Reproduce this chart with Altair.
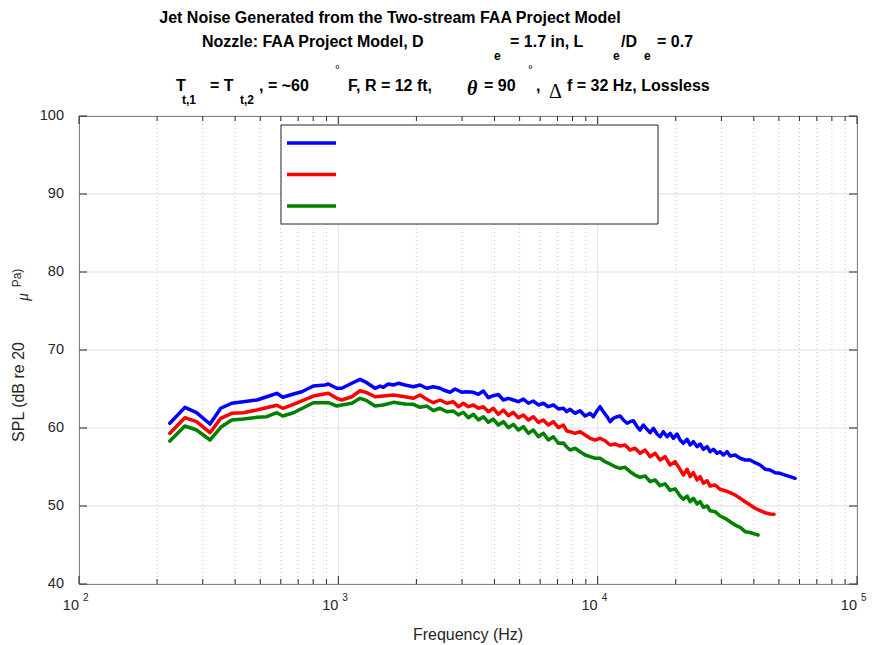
import altair as alt
import pandas as pd

# ---------------- data ----------------
blue_freq = [224, 256, 284, 320, 352, 388, 430, 485, 530, 579, 611, 671,
             723, 801, 889, 915, 986, 1031, 1127, 1213, 1287, 1385, 1448, 1491, 1559, 1630, 1704, 1808, 1946, 2066, 2192, 2325,
             2468, 2541, 2697, 2819, 2992, 3128, 3316, 3467, 3625, 3789, 3961, 4141, 4329, 4525, 4731, 4946, 5170, 5405, 5650, 5907, 6175, 6455, 6749, 7055, 7375,
             7601, 7828, 8184, 8555, 8944, 9349, 9626, 9947, 10216, 10519, 10873, 11165, 11497, 11881, 12202, 12564, 12986, 13335, 13731, 14190, 14573, 15005, 15508, 15926, 16398, 16947, 17406, 17922, 18519, 19020, 19585, 20241,
             20789, 21406, 22127, 22726, 23400, 24183, 24837, 25573, 26425, 27140, 27945, 28885, 29666, 30546, 31568, 32419, 33890, 35428, 37037, 38719, 40462, 42300, 44222, 46230, 48332, 50527, 52822, 55208, 57710]
blue_spl = [60.6, 62.65, 61.96, 60.51, 62.53, 63.17, 63.37, 63.59, 64.01, 64.45, 63.94, 64.36,
            64.65, 65.38, 65.51, 65.64, 65.09, 65.09, 65.73, 66.24, 65.81, 65.09, 65.38, 65.22, 65.64, 65.51, 65.73, 65.51, 65.29, 65.51, 65.09, 65.29,
            65.09, 64.87, 64.58, 65.0, 64.58, 64.65, 64.58, 64.32, 64.74, 63.88, 64.14, 64.3, 63.59, 63.81, 63.59, 63.37, 63.72, 63.17, 63.46, 62.95, 63.17, 62.73, 62.95, 62.44, 62.53,
            62.09, 62.4, 61.88, 62.22, 61.54, 61.88, 61.45, 62.22, 62.73, 62.09, 61.45, 60.81, 61.24, 61.45, 61.54, 61.03, 60.6, 60.81, 60.94, 60.17, 59.74, 60.38, 59.83, 59.4, 59.96, 59.23, 58.88, 59.53, 58.88, 59.32, 58.68, 59.23,
            58.46, 58.04, 58.55, 57.82, 58.24, 57.6, 57.95, 57.27, 57.6, 56.96, 57.27, 56.76, 56.96, 56.54, 56.96, 56.41, 56.54, 56.12, 55.9, 55.9, 55.55, 55.26, 54.71, 54.62, 54.27, 54.19, 53.97, 53.76, 53.55]

red_freq = [224, 256, 284, 320, 352, 388, 430, 485, 579, 611, 671,
            801, 915, 986, 1031, 1127, 1213, 1287, 1385, 1491, 1630, 1808, 1946, 2066, 2192, 2325,
            2468, 2619, 2777, 2903, 3035, 3172, 3316, 3467, 3625, 3789, 3961, 4141, 4329, 4525, 4731, 4946, 5170, 5405, 5650, 5907, 6175, 6455, 6749, 7055, 7375,
            7601, 7828, 8184, 8555, 8944, 9349, 9772, 10216, 10680, 11165, 11672, 12202, 12756, 13335, 13940, 14573, 15235, 15926, 16649, 17406, 18194, 19020, 19885,
            20789, 21406, 22127, 22726, 23400, 24183, 24837, 25573, 26425, 27140, 28373, 29666, 31012, 32419, 33890, 35428, 37037, 38719, 40462, 42300, 44222, 46230, 47890]
red_spl = [59.32, 61.32, 60.81, 59.4, 61.24, 61.88, 61.96, 62.31, 62.91, 62.53, 63.04,
           64.1, 64.45, 63.81, 63.59, 64.01, 64.78, 64.53, 64.01, 64.1, 64.23, 64.01, 63.81, 64.23, 63.68, 63.24,
           63.59, 63.17, 63.37, 62.73, 63.17, 62.73, 62.95, 62.53, 62.73, 62.09, 62.53, 61.76, 62.31, 61.58, 62.01, 61.32, 61.67, 61.03, 61.45, 60.73, 61.03, 60.38, 60.81, 60.04, 60.38,
           59.62, 59.53, 59.32, 59.53, 59.1, 58.68, 58.46, 58.68, 58.37, 57.82, 57.95, 57.69, 57.82, 57.18, 57.4, 56.76, 57.18, 56.32, 56.76, 55.9, 56.32, 55.26, 55.68,
           54.7, 53.97, 54.71, 53.76, 54.27, 53.33, 53.76, 52.91, 53.24, 52.56, 52.69, 52.14, 51.96, 51.71, 51.41, 50.99, 50.55, 50.13, 49.71, 49.4, 49.14, 48.97, 48.95]

green_freq = [224, 256, 284, 320, 352, 388, 430, 485, 530, 579, 611, 671,
              801, 915, 986, 1031, 1127, 1213, 1287, 1385, 1491, 1630, 1808, 1946, 2066, 2192, 2325,
              2468, 2619, 2777, 2903, 3035, 3172, 3316, 3467, 3625, 3789, 3961, 4141, 4329, 4525, 4731, 4946, 5170, 5405, 5650, 5907, 6175, 6455, 6749, 7055, 7375,
              7601, 7828, 8184, 8555, 8944, 9349, 9772, 10216, 10680, 11165, 11672, 12202, 12756, 13335, 13940, 14573, 15235, 15926, 16649, 17406, 18194, 19020, 19885,
              20789, 21406, 22127, 22726, 23400, 24183, 24837, 25573, 26425, 27140, 28373, 29666, 31012, 32419, 33890, 35428, 37037, 38719, 40462, 41557]
green_spl = [58.33, 60.26, 59.74, 58.46, 60.09, 61.03, 61.15, 61.37, 61.45, 61.96, 61.54, 61.96,
             63.24, 63.24, 62.82, 62.95, 63.17, 63.81, 63.5, 62.82, 62.95, 63.29, 63.08, 63.04, 62.65, 62.82, 62.22,
             62.53, 62.09, 62.18, 61.67, 62.01, 61.32, 61.76, 61.03, 61.45, 60.73, 61.15, 60.38, 60.81, 60.04, 60.47, 59.74, 60.17, 59.32, 59.74, 58.88, 59.32, 58.46, 58.88, 58.04, 58.08,
             57.56, 57.18, 57.4, 56.96, 56.54, 56.32, 56.12, 56.12, 55.68, 55.38, 55.04, 54.83, 54.96, 54.4, 53.97, 53.68, 53.85, 53.12, 53.33, 52.6, 52.85, 52.0, 52.2,
             51.28, 50.86, 51.28, 50.55, 50.99, 50.26, 50.55, 49.83, 50.0, 49.4, 49.27, 48.72, 48.42, 47.99, 47.56, 47.27, 46.71, 46.6, 46.4, 46.28]

series_names = ["Series 1", "Series 2", "Series 3"]
series_colors = ["#0000ff", "#ff0000", "#008000"]

decades = [100, 1000, 10000, 100000]
decade_exponents = ["2", "3", "4", "5"]
minor_ticks = [m * d for d in (100, 1000, 10000) for m in range(2, 10)]
y_ticks = [40, 50, 60, 70, 80, 90, 100]

# ---------------- layout ----------------
W, H = 778, 468
OX, OY = 79, 116
AX = "#262626"
FONT = "Liberation Sans"

df = pd.concat([
    pd.DataFrame({"freq": blue_freq, "spl": blue_spl, "series": series_names[0]}),
    pd.DataFrame({"freq": red_freq, "spl": red_spl, "series": series_names[1]}),
    pd.DataFrame({"freq": green_freq, "spl": green_spl, "series": series_names[2]}),
], ignore_index=True)

xs = alt.Scale(type="log", domain=[100, 100000], nice=False)
ys = alt.Scale(domain=[40, 100], nice=False, zero=False)

dec_df = pd.DataFrame({"f": decades, "e": decade_exponents})
min_df = pd.DataFrame({"f": minor_ticks})
yt_df = pd.DataFrame({"v": y_ticks, "lbl": [str(v) for v in y_ticks]})
one = pd.DataFrame({"a": [0]})

grid_major_x = alt.Chart(dec_df).mark_rule(color="#dfdfdf", strokeWidth=1).encode(
    x=alt.X("f:Q", scale=xs, axis=None), y=alt.value(0), y2=alt.value(H))
grid_minor_x = alt.Chart(min_df).mark_rule(color="#c8c8c8", strokeWidth=1, strokeDash=[1, 3]).encode(
    x=alt.X("f:Q", scale=xs, axis=None), y=alt.value(0), y2=alt.value(H))
grid_y = alt.Chart(yt_df).mark_rule(color="#dfdfdf", strokeWidth=1).encode(
    y=alt.Y("v:Q", scale=ys, axis=None), x=alt.value(0), x2=alt.value(W))

lines = alt.Chart(df).mark_line(strokeWidth=3.5, strokeJoin="round", strokeCap="round").encode(
    x=alt.X("freq:Q", scale=xs, axis=None),
    y=alt.Y("spl:Q", scale=ys, axis=None),
    color=alt.Color("series:N", scale=alt.Scale(domain=series_names, range=series_colors), legend=None),
)

# ticks (inside, MATLAB style)
tick_layers = []
for (y0, y1) in [(H, H - 8), (0, 8)]:
    tick_layers.append(alt.Chart(dec_df).mark_rule(color=AX, strokeWidth=1).encode(
        x=alt.X("f:Q", scale=xs, axis=None), y=alt.value(y0), y2=alt.value(y1)))
for (y0, y1) in [(H, H - 5), (0, 5)]:
    tick_layers.append(alt.Chart(min_df).mark_rule(color=AX, strokeWidth=1).encode(
        x=alt.X("f:Q", scale=xs, axis=None), y=alt.value(y0), y2=alt.value(y1)))
for (x0, x1) in [(0, 8), (W, W - 8)]:
    tick_layers.append(alt.Chart(yt_df).mark_rule(color=AX, strokeWidth=1).encode(
        y=alt.Y("v:Q", scale=ys, axis=None), x=alt.value(x0), x2=alt.value(x1)))

# tick labels
ylabels = alt.Chart(yt_df).mark_text(align="right", baseline="middle", fontSize=14.5, font=FONT, color=AX).encode(
    y=alt.Y("v:Q", scale=ys, axis=None), x=alt.value(-15), text="lbl:N")
xlab10 = alt.Chart(dec_df).mark_text(align="right", baseline="middle", fontSize=14.5, font=FONT, color=AX, dx=0).encode(
    x=alt.X("f:Q", scale=xs, axis=None), y=alt.value(H + 22), text=alt.value("10"))
xlabexp = alt.Chart(dec_df).mark_text(align="left", baseline="middle", fontSize=10, font=FONT, color=AX, dx=4).encode(
    x=alt.X("f:Q", scale=xs, axis=None), y=alt.value(H + 14), text="e:N")

# legend box (no labels, as in the reference)
legend_box = alt.Chart(one).mark_rect(fill="white", stroke=AX, strokeWidth=1).encode(
    x=alt.value(281 - OX), x2=alt.value(658 - OX), y=alt.value(125 - OY), y2=alt.value(224 - OY))
legend_lines = []
for col, py in zip(series_colors, [143, 174.5, 206]):
    legend_lines.append(alt.Chart(one).mark_rule(color=col, strokeWidth=3.5).encode(
        x=alt.value(287 - OX), x2=alt.value(336 - OX), y=alt.value(py - OY)))


def txt(s, px, py, size=16, bold=True, align="left", font=FONT, italic=False, angle=0, color="#000000"):
    return alt.Chart(one).mark_text(
        text=s, align=align, baseline="middle", fontSize=size,
        fontWeight="bold" if bold else "normal", font=font,
        fontStyle="italic" if italic else "normal", angle=angle, color=color,
    ).encode(x=alt.value(px - OX), y=alt.value(py - OY))


texts = [
    txt("Jet Noise Generated from the Two-stream FAA Project Model", 390, 18, align="center"),
    txt("Nozzle: FAA Project Model, D", 202, 42),
    txt("e", 494, 56, size=12),
    txt("= 1.7 in, L", 510, 42),
    txt("e", 613, 56, size=12),
    txt("/D", 621, 42),
    txt("e", 644, 56, size=12),
    txt("= 0.7", 657, 42),
    txt("T", 176, 86),
    txt("t,1", 182, 100, size=12),
    txt("= T", 210, 86),
    txt("t,2", 240, 100, size=12),
    txt(", = ~60", 259, 86),
    txt("\u00b0", 335, 70, size=12, bold=False),
    txt("F, R = 12 ft,", 348, 86),
    txt("\u03b8", 467, 89, size=20, bold=True, font="Liberation Serif", italic=True),
    txt("= 90", 484, 86),
    txt("\u00b0", 528, 70, size=12, bold=False),
    txt(",", 536, 86),
    txt("\u0394", 549, 92, size=20, bold=False, font="Liberation Serif"),
    txt("f = 32 Hz, Lossless", 567, 86),
    # axis titles
    txt("Frequency (Hz)", 468, 635, size=16, bold=False, align="center", color=AX),
    txt("SPL (dB re 20", 19, 392, size=16, bold=False, align="center", angle=270, color=AX),
    txt("\u03bc", 23, 297, size=16, bold=False, align="center", angle=270, font="Liberation Serif", italic=True, color=AX),
    txt("Pa)", 17, 278, size=12, bold=False, align="center", angle=270, color=AX),
]

chart = alt.layer(
    grid_major_x, grid_minor_x, grid_y, lines, legend_box, *legend_lines,
    *tick_layers, ylabels, xlab10, xlabexp, *texts,
).properties(
    width=W, height=H,
    autosize=alt.AutoSizeParams(type="none"),
    padding={"left": OX, "top": OY, "right": 872 - OX - W, "bottom": 645 - OY - H},
    background="white",
).configure_view(stroke=AX, strokeWidth=1)

chart.save("out.html", embed_options={"renderer": "svg", "actions": False})
